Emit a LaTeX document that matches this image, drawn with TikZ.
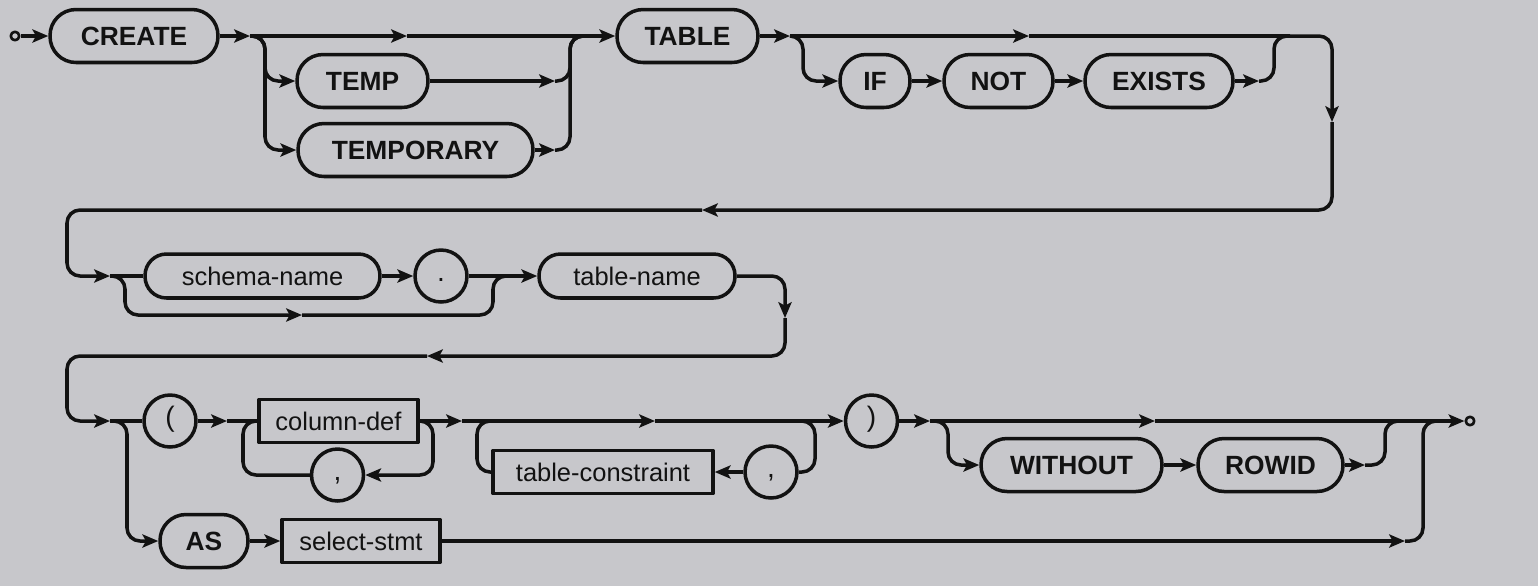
\documentclass[tikz,border=0pt]{standalone}
\usepackage{fontspec}
\setmainfont{Liberation Sans}
\usepackage{tikz}
\usetikzlibrary{arrows.meta}
\definecolor{railbg}{RGB}{199,199,203}
\definecolor{railink}{RGB}{18,18,18}
\newcommand{\kwfont}{\fontsize{15}{18}\selectfont\bfseries}
\newcommand{\ntfont}{\fontsize{14.5}{17}\selectfont}

\begin{document}
\begin{tikzpicture}[
  x=0.02cm, y=-0.02cm,
  line width=2pt, line join=round, color=railink,
  kw/.style={draw, rectangle, rounded corners=0.52cm, minimum height=1.06cm, inner sep=0pt, font=\kwfont},
  ntpill/.style={draw, rectangle, rounded corners=0.43cm, minimum height=0.88cm, inner sep=0pt, font=\ntfont},
  ntbox/.style={draw, rectangle, minimum height=0.86cm, inner sep=0pt, font=\ntfont},
  punct/.style={draw, circle, minimum size=1.04cm, inner sep=0pt, text height=1.6ex, text depth=0.45ex, font=\fontsize{16}{18}\selectfont},
  term/.style={draw, circle, minimum size=0.17cm, inner sep=0pt, line width=1.5pt},
  arr/.style={-{Stealth[length=9pt, width=7.5pt, inset=2pt]}},
  rc/.style={rounded corners=0.26cm}
]

\fill[railbg] (0,0) rectangle (1538,586);

% row one
\node[term] (start) at (15,36) {};
\node[kw, minimum width=3.36cm] (create) at (134,36) {CREATE};
\node[kw, minimum width=2.62cm] (temp) at (362.5,81) {TEMP};
\node[kw, minimum width=4.70cm] (temporary) at (415.5,150) {TEMPORARY};
\node[kw, minimum width=2.82cm] (table) at (687.5,36) {TABLE};
\node[kw, minimum width=1.40cm] (if) at (875,81) {IF};
\node[kw, minimum width=2.18cm] (not) at (998.5,81) {NOT};
\node[kw, minimum width=2.96cm] (exists) at (1159,81) {EXISTS};

% row two
\node[ntpill, minimum width=4.70cm] (schema) at (262.5,276) {schema-name};
\node[punct] (dot) at (441,276) {.};
\node[ntpill, minimum width=3.92cm] (tablename) at (637,276) {table-name};

% row three
\node[punct] (lparen) at (170,421) {(};
\node[ntbox, minimum width=3.18cm] (coldef) at (338.5,421) {column-def};
\node[punct] (comma1) at (337.5,475) {,};
\node[ntbox, minimum width=4.40cm] (tconstr) at (603,472) {table-constraint};
\node[punct] (comma2) at (771,472) {,};
\node[punct] (rparen) at (871.5,421) {)};
\node[kw, minimum width=3.62cm] (without) at (1071.5,465) {WITHOUT};
\node[kw, minimum width=2.90cm] (rowid) at (1270.5,465) {ROWID};
\node[term] (stop) at (1470,421) {};
\node[kw, minimum width=1.76cm] (as) at (204,541) {AS};
\node[ntbox, minimum width=3.16cm] (select) at (361,541) {select-stmt};

% junctions
\coordinate (a1) at (250,36);
\coordinate (p1) at (407,36);
\coordinate (m1) at (585,36);
\coordinate (j1) at (555,81);
\coordinate (j2) at (555,150);
\coordinate (a2) at (790,36);
\coordinate (p2) at (1029,36);
\coordinate (m2) at (1290,36);
\coordinate (j3) at (1259,81);
\coordinate (d1) at (1332,122);
\coordinate (b1) at (702,210);
\coordinate (s2) at (110,276);
\coordinate (p3) at (302,315);
\coordinate (m3) at (508,276);
\coordinate (d2) at (785,318);
\coordinate (b2) at (427,356);
\coordinate (s3) at (110,421);
\coordinate (a3) at (227,421);
\coordinate (a4) at (462,421);
\coordinate (p4) at (655,421);
\coordinate (r4) at (800,421);
\coordinate (l4) at (492,421);
\coordinate (a5) at (930,421);
\coordinate (p5) at (1155,421);
\coordinate (m5) at (1400,421);
\coordinate (j5) at (1365,465);
\coordinate (j6) at (1405,541);
\coordinate (m6) at (1438,421);

% row one lines
\draw[arr] (start) -- (create);
\draw[arr] (create) -- (a1);
\draw[arr] (a1) -- (p1);
\draw (p1) -- (m1);
\draw[arr, rc] (a1) -- (265,36) |- (temp);
\draw[arr, rc] (a1) -- (265,36) |- (temporary);
\draw[arr] (temp) -- (j1);
\draw[arr] (temporary) -- (j2);
\draw[rc] (j1) -| (570,36) -- (m1);
\draw[rc] (j2) -| (570,36) -- (m1);
\draw[arr] (m1) -- (table);
\draw[arr] (table) -- (a2);
\draw[arr] (a2) -- (p2);
\draw (p2) -- (m2);
\draw[arr, rc] (a2) -- (803,36) |- (if);
\draw[arr] (if) -- (not);
\draw[arr] (not) -- (exists);
\draw[arr] (exists) -- (j3);
\draw[rc] (j3) -| (1274,36) -- (m2);
\draw[arr, rc] (m2) -| (d1);
\draw[arr, rc] (d1) |- (b1);
\draw[arr, rc] (b1) -| (67,276) -- (s2);

% row two lines
\draw (s2) -- (schema);
\draw[arr] (schema) -- (dot);
\draw[arr] (dot) -- (tablename);
\draw[arr, rc] (s2) -- (125,276) |- (p3);
\draw[rc] (p3) -| (493,276) -- (m3);
\draw[arr, rc] (tablename) -| (d2);
\draw[arr, rc] (d2) |- (b2);
\draw[arr, rc] (b2) -| (67,421) -- (s3);

% row three lines
\draw (s3) -- (lparen);
\draw[arr, rc] (s3) -- (127,421) |- (as);
\draw[arr] (as) -- (select);
\draw[arr] (select) -- (j6);
\draw[rc] (j6) -| (1423,421) -- (m6);
\draw[arr] (lparen) -- (a3);
\draw (a3) -- (coldef);
\draw[arr, rc] (coldef.east) -| (433,475) -- (comma1);
\draw[rc] (comma1) -| (243,421) -- (coldef);
\draw[arr] (coldef) -- (a4);
\draw[arr] (a4) -- (p4);
\draw[arr] (p4) -- (rparen);
\draw[rc] (r4) -| (815,472) -- (comma2);
\draw[arr] (comma2) -- (tconstr);
\draw[rc] (tconstr) -| (477,421) -- (l4);
\draw[arr] (rparen) -- (a5);
\draw[arr] (a5) -- (p5);
\draw (p5) -- (m6);
\draw[arr, rc] (a5) -- (948,421) |- (without);
\draw[arr] (without) -- (rowid);
\draw[arr] (rowid) -- (j5);
\draw[rc] (j5) -| (1385,421) -- (m5);
\draw[arr] (m6) -- (stop);

\end{tikzpicture}
\end{document}
